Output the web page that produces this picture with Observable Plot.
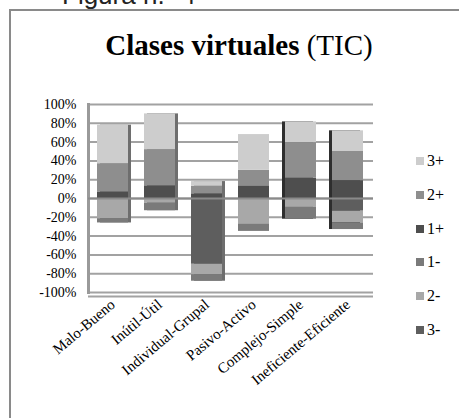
<!DOCTYPE html>
<html>
<head>
<meta charset="utf-8">
<script src="https://cdn.jsdelivr.net/npm/d3@7"></script>
<script src="https://cdn.jsdelivr.net/npm/@observablehq/plot@0.6"></script>
<style>
  html, body { margin: 0; padding: 0; background: #fff; }
  #wrap { position: relative; width: 459px; height: 418px; overflow: hidden; background: #fff; }
  #fig { position: absolute; left: 62px; top: -20px; font: 26px "Liberation Sans", Arial, sans-serif; color: #222; white-space: nowrap; }
  #border { position: absolute; left: 9px; top: 9px; width: 480px; height: 440px; border: 2px solid #8a8a8a; }
  #title { position: absolute; left: 0; top: 31px; width: 478px; text-align: center; font-family: "Liberation Serif", "Times New Roman", serif; font-size: 29px; line-height: 29px; color: #000; white-space: nowrap; }
  #title b { font-weight: bold; }
  #chart { position: absolute; left: 0; top: 0; }
  #legend { position: absolute; left: 416px; top: 0; font-family: "Liberation Serif", serif; font-size: 16px; color: #000; }
  .item { position: absolute; left: 0; width: 60px; height: 16px; display: flex; align-items: center; white-space: nowrap; }
  .sw { width: 8px; height: 8px; margin-right: 3px; }
</style>
</head>
<body>
<div id="wrap">
  <div id="fig">Figura n.º 4</div>
  <div id="border"></div>
  <div id="title"><b>Clases virtuales</b> (TIC)</div>
  <div id="chart"></div>
  <div id="legend"></div>
</div>
<script>
// Categories (x axis)
const categories = ["Malo-Bueno", "Inútil-Útil", "Individual-Grupal", "Pasivo-Activo", "Complejo-Simple", "Ineficiente-Eficiente"];
// Series in stacking order (Excel order: 3- first)
const seriesNames = ["3-", "2-", "1-", "1+", "2+", "3+"];
const seriesColors = ["#5e5e5e", "#a8a8a8", "#7a7a7a", "#4e4e4e", "#8e8e8e", "#cdcdcd"];
// Legend order (top to bottom)
const legendNames = ["3+", "2+", "1+", "1-", "2-", "3-"];
// Values (% of responses)
const v3plus  = [41, 38, 5, 38, 22, 22];
const v2plus  = [30, 38.5, 8, 16.5, 38, 31];
const v1plus  = [7, 13.5, 5, 13.5, 21.5, 19];
const v1minus = [4.5, 8, 7, 8, 12.5, 7];
const v2minus = [21.5, 5, 11, 27, 9.5, 12.5];
const v3minus = [0, 0, 70, 0, 0, 13.5];
// Y axis ticks
const yTicks = [-100, -80, -60, -40, -20, 0, 20, 40, 60, 80, 100];

const valuesBySeries = {
  "3-": v3minus.map(v => -v),
  "2-": v2minus.map(v => -v),
  "1-": v1minus.map(v => -v),
  "1+": v1plus,
  "2+": v2plus,
  "3+": v3plus
};

const data = [];
categories.forEach((c, i) => {
  seriesNames.forEach(s => data.push({category: c, series: s, value: valuesBySeries[s][i]}));
});

// Per-category extents for the 3D side faces
const totals = categories.map((c, i) => ({
  category: c,
  pos: v1plus[i] + v2plus[i] + v3plus[i],
  neg: -(v1minus[i] + v2minus[i] + v3minus[i])
}));
const rightSide = totals.filter(d => ["Malo-Bueno", "Inútil-Útil", "Individual-Grupal"].includes(d.category));
const leftSide = totals.filter(d => ["Complejo-Simple", "Ineficiente-Eficiente"].includes(d.category));

const chart = Plot.plot({
  width: 459,
  height: 418,
  marginTop: 104,
  marginBottom: 126,
  marginLeft: 88,
  marginRight: 86,
  style: {fontFamily: "'Liberation Serif', 'Times New Roman', serif", fontSize: "14px", color: "#000", background: "transparent"},
  x: {domain: categories, paddingInner: 0.34, paddingOuter: 0.2, label: null, axis: null},
  y: {domain: [-100, 100], label: null, axis: null},
  color: {domain: seriesNames, range: seriesColors},
  marks: [
    Plot.ruleY(yTicks, {stroke: "#a2a2a2", strokeWidth: 2}),
    Plot.ruleY([-100], {stroke: "#a2a2a2", strokeWidth: 2, dy: 4}),
    Plot.frame({anchor: "left", stroke: "#9a9a9a", strokeWidth: 3}),
    Plot.barY(rightSide, {x: "category", y1: "neg", y2: "pos", fill: "#6e6e6e", dx: 3}),
    Plot.barY(leftSide, {x: "category", y1: "neg", y2: "pos", fill: "#2e2e2e", dx: -3}),
    Plot.barY(data, {x: "category", y: "value", fill: "series"}),
    Plot.ruleY([0], {stroke: "#8a8a8a", strokeWidth: 2}),
    Plot.axisY({ticks: yTicks, tickFormat: d => d + "%", tickSize: 0, tickPadding: 12, fontSize: 14, label: null}),
    Plot.axisX({tickRotate: -40, tickSize: 0, tickPadding: 10, fontSize: 15, label: null})
  ]
});
document.getElementById("chart").appendChild(chart);

// Legend
const legend = document.getElementById("legend");
const legendY0 = 153;
const legendStep = 33.8;
legendNames.forEach((name, i) => {
  const item = document.createElement("div");
  item.className = "item";
  item.style.top = (legendY0 + i * legendStep) + "px";
  const sw = document.createElement("span");
  sw.className = "sw";
  sw.style.background = seriesColors[seriesNames.indexOf(name)];
  const lab = document.createElement("span");
  lab.textContent = name;
  item.appendChild(sw);
  item.appendChild(lab);
  legend.appendChild(item);
});
</script>
</body>
</html>
